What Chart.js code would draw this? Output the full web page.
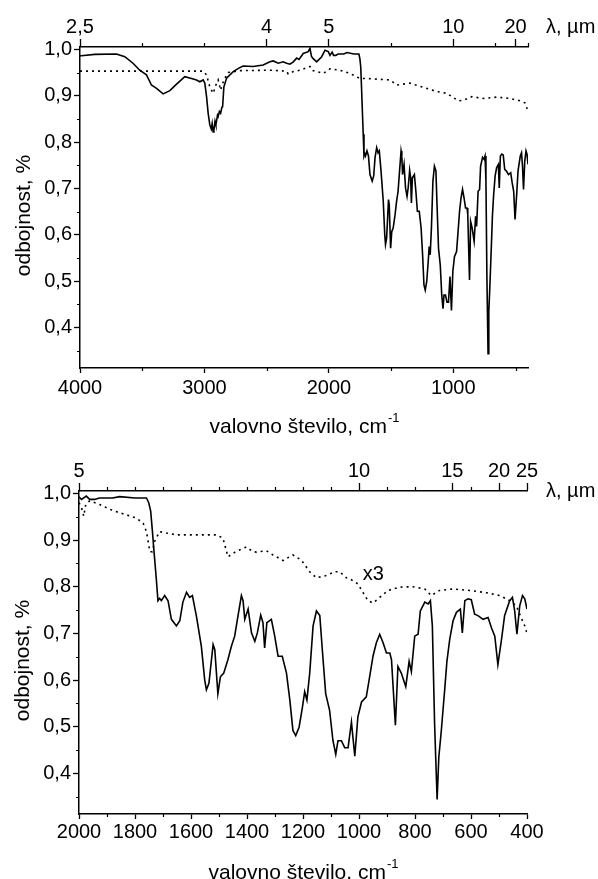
<!DOCTYPE html>
<html>
<head>
<meta charset="utf-8">
<script src="https://cdn.jsdelivr.net/npm/chart.js@4.4.1/dist/chart.umd.min.js"></script>
<style>
  body { margin: 0; background: #fff; }
  canvas { display: block; }
</style>
</head>
<body>
<canvas id="upper" width="598" height="440"></canvas>
<canvas id="lower" width="598" height="439"></canvas>
<script>
// sample spectrum (solid line), wavenumber in cm-1
const sampleWn = [
  4000, 3989, 3882, 3707, 3640, 3574, 3520, 3466, 3426, 3385,
  3332, 3278, 3224, 3158, 3104, 3064, 3037, 3010, 2997, 2983,
  2970, 2957, 2945, 2938, 2930, 2924, 2915, 2908, 2895, 2890,
  2880, 2870, 2860, 2854, 2844, 2822, 2769, 2720, 2689, 2608,
  2528, 2474, 2447, 2407, 2367, 2340, 2313, 2286, 2259, 2240,
  2206, 2166, 2152, 2140, 2130, 2098, 2058, 2031, 2005, 1991,
  1974, 1962, 1944, 1927, 1880, 1855, 1800, 1759, 1751, 1744,
  1738, 1733, 1724, 1718, 1712, 1706, 1694, 1682, 1670, 1652,
  1640, 1629, 1616, 1605, 1595, 1581, 1563, 1551, 1545, 1536,
  1521, 1515, 1504, 1495, 1483, 1468, 1456, 1444, 1432, 1420,
  1414, 1408, 1396, 1384, 1372, 1363, 1351, 1343, 1337, 1329,
  1313, 1301, 1289, 1274, 1259, 1247, 1236, 1226, 1214, 1202,
  1194, 1186, 1176, 1164, 1152, 1140, 1131, 1119, 1105, 1093,
  1083, 1075, 1063, 1051, 1039, 1027, 1015, 1004, 991, 974,
  962, 950, 938, 926, 914, 902, 890, 884, 870, 861,
  849, 833, 821, 813, 801, 789, 781, 765, 753, 745,
  738, 730, 724, 721, 715, 706, 694, 686, 676, 664,
  652, 638, 631, 622, 611, 599, 587, 575, 557, 539,
  527, 515, 504, 491, 480, 462, 452, 444, 436, 426,
  416, 408, 400
];
const sampleR = [
  0.986, 0.986, 0.989, 0.990, 0.984, 0.970, 0.955, 0.945, 0.923, 0.916,
  0.904, 0.911, 0.925, 0.941, 0.937, 0.934, 0.930, 0.934, 0.927, 0.898,
  0.862, 0.837, 0.828, 0.840, 0.822, 0.826, 0.845, 0.837, 0.858, 0.855,
  0.866, 0.862, 0.875, 0.876, 0.919, 0.938, 0.952, 0.960, 0.964, 0.963,
  0.966, 0.973, 0.975, 0.970, 0.973, 0.970, 0.968, 0.973, 0.981, 0.978,
  0.991, 0.995, 1.002, 0.985, 0.981, 0.973, 0.984, 0.998, 0.995, 0.987,
  0.994, 0.987, 0.987, 0.990, 0.990, 0.993, 0.990, 0.990, 0.980, 0.962,
  0.920, 0.882, 0.817, 0.770, 0.775, 0.770, 0.781, 0.770, 0.730, 0.716,
  0.727, 0.767, 0.788, 0.777, 0.781, 0.738, 0.672, 0.600, 0.579, 0.593,
  0.676, 0.665, 0.571, 0.607, 0.615, 0.644, 0.672, 0.694, 0.738, 0.781,
  0.770, 0.730, 0.752, 0.701, 0.683, 0.701, 0.739, 0.723, 0.669, 0.723,
  0.730, 0.694, 0.651, 0.651, 0.615, 0.557, 0.492, 0.481, 0.499, 0.542,
  0.575, 0.557, 0.615, 0.716, 0.748, 0.738, 0.665, 0.571, 0.535, 0.470,
  0.441, 0.470, 0.470, 0.455, 0.455, 0.510, 0.437, 0.521, 0.553, 0.564,
  0.607, 0.651, 0.680, 0.698, 0.680, 0.658, 0.658, 0.644, 0.503, 0.629,
  0.615, 0.586, 0.640, 0.618, 0.694, 0.698, 0.748, 0.767, 0.763, 0.770,
  0.716, 0.506, 0.398, 0.344, 0.434, 0.492, 0.579, 0.640, 0.687, 0.727,
  0.745, 0.752, 0.701, 0.770, 0.774, 0.772, 0.741, 0.738, 0.730, 0.734,
  0.712, 0.694, 0.633, 0.687, 0.738, 0.770, 0.777, 0.748, 0.698, 0.759,
  0.781, 0.774, 0.752
];

// dotted reference, upper panel
const refWn = [4000, 3500, 3010, 2983, 2957, 2930, 2908, 2890, 2870, 2844,
  2809, 2715, 2474, 2340, 2327, 2286, 2233, 2152, 2138, 2045,
  1991, 1911, 1830, 1750, 1696, 1508, 1454, 1348, 1241, 1133,
  1052, 959, 919, 851, 758, 650, 543, 463, 422, 404];
const refR = [0.953, 0.953, 0.953, 0.945, 0.919, 0.905, 0.923, 0.934, 0.912, 0.934,
  0.950, 0.954, 0.955, 0.953, 0.947, 0.952, 0.955, 0.963, 0.955, 0.948,
  0.958, 0.955, 0.948, 0.937, 0.937, 0.934, 0.923, 0.927, 0.918, 0.909,
  0.905, 0.889, 0.890, 0.898, 0.894, 0.897, 0.894, 0.889, 0.884, 0.869];

// dotted reference x3, lower panel
const ref3Wn = [2000, 1991, 1983, 1976, 1962, 1926, 1879, 1831, 1795, 1771,
  1759, 1747, 1738, 1730, 1712, 1688, 1652, 1569, 1509, 1486,
  1468, 1450, 1438, 1402, 1379, 1366, 1331, 1307, 1271, 1236,
  1206, 1176, 1152, 1116, 1087, 1069, 1045, 1033, 1004, 986,
  968, 950, 926, 896, 855, 807, 765, 742, 712, 664,
  605, 545, 497, 462, 438, 424, 408, 400];
const ref3R = [0.980, 0.969, 0.951, 0.976, 0.984, 0.976, 0.963, 0.954, 0.947, 0.936,
  0.918, 0.875, 0.875, 0.897, 0.918, 0.915, 0.911, 0.911, 0.911, 0.904,
  0.864, 0.871, 0.876, 0.885, 0.875, 0.874, 0.877, 0.868, 0.856, 0.868,
  0.857, 0.832, 0.819, 0.824, 0.832, 0.832, 0.819, 0.817, 0.806, 0.788,
  0.770, 0.765, 0.777, 0.792, 0.799, 0.800, 0.795, 0.781, 0.792, 0.795,
  0.792, 0.787, 0.781, 0.770, 0.759, 0.738, 0.716, 0.700];

// ticks
const yTicks = [0.4, 0.5, 0.6, 0.7, 0.8, 0.9, 1.0];
const yMinor = [0.35, 0.45, 0.55, 0.65, 0.75, 0.85, 0.95];
const upperWnTicks = [4000, 3000, 2000, 1000];
const upperWnMinor = [3500, 2500, 1500, 500];
const upperLamTicks = [2.5, 4, 5, 10, 20];
const upperLamMinor = [3500, 3000, 1500, 10000 / 15, 400];
const lowerWnTicks = [2000, 1800, 1600, 1400, 1200, 1000, 800, 600, 400];
const lowerWnMinor = [1900, 1700, 1500, 1300, 1100, 900, 700, 500];
const lowerLamTicks = [5, 10, 15, 20, 25];
const lowerLamMinor = [1900, 1800, 1700, 1600, 1500, 1400, 1300, 1200, 1100, 900, 800, 600];

const FONT = 'Liberation Sans, Arial, sans-serif';
const comma = v => String(Math.round(v * 10) / 10).replace('.', ',');
const toPairs = (xs, ys) => xs.map((x, i) => ({ x: x, y: ys[i] }));

// minor ticks, axis titles and the free labels
const extras = {
  id: 'extras',
  afterDraw(chart, args, o) {
    const ctx = chart.ctx;
    const a = chart.chartArea;
    const sx = chart.scales.x, sy = chart.scales.y;
    ctx.save();
    ctx.strokeStyle = '#000';
    ctx.fillStyle = '#000';
    ctx.lineWidth = 1.2;
    ctx.beginPath();
    o.yMinor.forEach(v => {
      const p = Math.round(sy.getPixelForValue(v)) + 0.5;
      ctx.moveTo(a.left - 3, p); ctx.lineTo(a.left, p);
    });
    o.xMinor.forEach(v => {
      const p = Math.round(sx.getPixelForValue(v)) + 0.5;
      ctx.moveTo(p, a.bottom); ctx.lineTo(p, a.bottom + 3);
    });
    o.topMinor.forEach(v => {
      const p = Math.round(sx.getPixelForValue(v)) + 0.5;
      ctx.moveTo(p, a.top); ctx.lineTo(p, a.top - 4);
    });
    ctx.stroke();

    // y title
    ctx.save();
    ctx.translate(a.left - 50, (a.top + a.bottom) / 2 + 8);
    ctx.rotate(-Math.PI / 2);
    ctx.font = '21px ' + FONT;
    ctx.textAlign = 'center';
    ctx.textBaseline = 'alphabetic';
    ctx.fillText('odbojnost, %', 0, 0);
    ctx.restore();

    // x title with superscript
    ctx.font = '21px ' + FONT;
    const main = 'valovno število, cm';
    const w1 = ctx.measureText(main).width;
    ctx.font = '13px ' + FONT;
    const w2 = ctx.measureText('-1').width;
    const x0 = (a.left + a.right) / 2 - (w1 + w2) / 2;
    const yb = a.bottom + 65;
    ctx.textAlign = 'left';
    ctx.textBaseline = 'alphabetic';
    ctx.font = '21px ' + FONT;
    ctx.fillText(main, x0, yb);
    ctx.font = '13px ' + FONT;
    ctx.fillText('-1', x0 + w1 + 1, yb - 11);

    // lambda label
    ctx.font = '20px ' + FONT;
    ctx.fillText('λ, µm', a.right + o.lamDx, a.top + o.lamDy);

    if (o.note) {
      ctx.fillText(o.note.text, sx.getPixelForValue(o.note.wn), sy.getPixelForValue(o.note.r));
    }
    ctx.restore();
  }
};

function makePanel(id, p) {
  const tickFont = { family: FONT, size: 20 };
  return new Chart(document.getElementById(id), {
    type: 'line',
    data: {
      datasets: [
        { data: toPairs(sampleWn, sampleR), borderColor: '#000', borderWidth: 1.6,
          pointRadius: 0, tension: 0, fill: false },
        { data: toPairs(p.refWn, p.refR), borderColor: '#000', borderWidth: 1.6,
          borderDash: [2, 4], pointRadius: 0, tension: 0, fill: false }
      ]
    },
    options: {
      responsive: false,
      animation: false,
      events: [],
      layout: { padding: { left: 0, right: p.right, top: 0, bottom: 0 } },
      plugins: {
        legend: { display: false },
        tooltip: { enabled: false },
        extras: { yMinor: yMinor, xMinor: p.wnMinor, topMinor: p.lamMinor,
          lamDx: p.lamDx, lamDy: p.lamDy, note: p.note }
      },
      scales: {
        x: {
          type: 'linear', position: 'bottom', min: 400, max: p.max, reverse: true,
          afterBuildTicks: s => { s.ticks = p.wnTicks.map(v => ({ value: v })); },
          afterFit: s => { s.height = p.bottomH; },
          ticks: { font: tickFont, color: '#000', padding: p.xPad, maxRotation: 0, autoSkip: false,
            callback: v => String(v) },
          grid: { drawOnChartArea: false, drawTicks: true, tickLength: 5, tickWidth: 1.3,
            tickColor: '#000', color: '#000' },
          border: { display: true, color: '#000', width: 1.5 }
        },
        x2: {
          type: 'linear', position: 'top', min: 400, max: p.max, reverse: true,
          afterBuildTicks: s => { s.ticks = p.lamTicks.map(l => ({ value: 10000 / l })); },
          afterFit: s => { s.height = p.topH; },
          ticks: { font: tickFont, color: '#000', padding: 0, maxRotation: 0, autoSkip: false,
            callback: v => comma(10000 / v) },
          grid: { drawOnChartArea: false, drawTicks: true, tickLength: 8, tickWidth: 1.3,
            tickColor: '#000', color: '#000' },
          border: { display: true, color: '#000', width: 1.5 }
        },
        y: {
          type: 'linear', position: 'left', min: 0.313, max: 1.005,
          afterBuildTicks: s => { s.ticks = yTicks.map(v => ({ value: v })); },
          afterFit: s => { s.width = p.leftW; },
          ticks: { font: tickFont, color: '#000', padding: 2,
            callback: v => v.toFixed(1).replace('.', ',') },
          grid: { drawOnChartArea: false, drawTicks: true, tickLength: 6, tickWidth: 1.3,
            tickColor: '#000', color: '#000' },
          border: { display: true, color: '#000', width: 1.5 }
        }
      }
    },
    plugins: [extras]
  });
}

makePanel('upper', {
  refWn: refWn, refR: refR, max: 4000,
  wnTicks: upperWnTicks, wnMinor: upperWnMinor,
  lamTicks: upperLamTicks, lamMinor: upperLamMinor,
  leftW: 80, right: 70, topH: 47, bottomH: 72, xPad: 3,
  lamDx: 18, lamDy: -14, note: null
});

makePanel('lower', {
  refWn: ref3Wn, refR: ref3R, max: 2000,
  wnTicks: lowerWnTicks, wnMinor: lowerWnMinor,
  lamTicks: lowerLamTicks, lamMinor: lowerLamMinor,
  leftW: 79, right: 71, topH: 51, bottomH: 65, xPad: 1,
  lamDx: 19, lamDy: 6, note: { text: 'x3', wn: 987, r: 0.814 }
});
</script>
</body>
</html>
